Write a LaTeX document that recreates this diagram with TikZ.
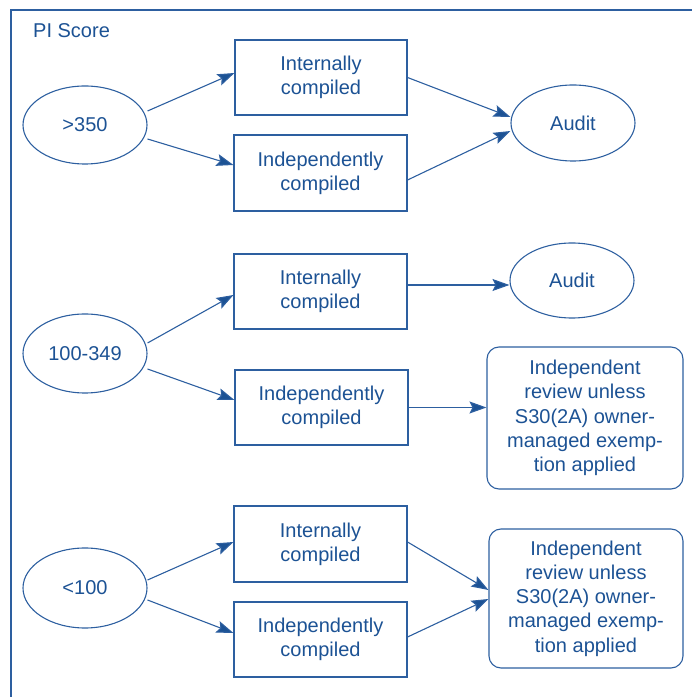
\documentclass[tikz,border=0pt]{standalone}
\usepackage{fontspec}
\setmainfont{Liberation Sans}
\usetikzlibrary{shapes.geometric,arrows.meta}
\definecolor{pblue}{RGB}{28,82,148}
\definecolor{lblue}{RGB}{45,95,160}
\tikzset{
  txt/.style={text=pblue,font=\fontsize{20}{24.3}\selectfont,align=center,inner sep=0pt},
  oval/.style={txt,ellipse,draw=lblue,line width=1.1pt,minimum width=124pt,minimum height=78pt},
  sbox/.style={txt,rectangle,draw=lblue,line width=1.1pt,minimum width=173pt,minimum height=75pt},
  rbox/.style={txt,rectangle,rounded corners=12pt,draw=lblue,line width=1.1pt,minimum width=195pt,minimum height=140pt},
  arr/.style={draw=lblue,line width=1.1pt,-{Stealth[length=17pt,width=12pt,inset=3pt,fill=pblue]}},
  frame/.style={draw=lblue,line width=1.1pt}
}
\begin{document}
\begin{tikzpicture}[x=1pt,y=1pt]
\useasboundingbox (0,0) rectangle (692,697);
\draw[frame] (11,0) -- (11,687) -- (692,687);
\node[txt,anchor=west] (pi) at (33,666) {PI Score};
% section 1
\node[oval] (g1) at (85,572) {>350};
\node[sbox,minimum width=172pt] (ia) at (321,619.5) {Internally\\compiled};
\node[sbox,minimum height=76pt] (ib) at (320.5,524) {Independently\\compiled};
\node[oval,minimum height=76pt] (au1) at (573,574) {Audit};
\draw[arr] ([yshift=14pt]g1.east) -- ([yshift=4.5pt]ia.west);
\draw[arr] ([yshift=-14pt]g1.east) -- ([yshift=8pt]ib.west);
\draw[arr] (ia.east) -- ([yshift=6pt]au1.west);
\draw[arr] ([yshift=-7pt]ib.east) -- ([yshift=-8pt]au1.west);
% section 2
\node[oval,minimum height=79pt] (g2) at (85,343.5) {100-349};
\node[sbox] (ic) at (320.5,405.5) {Internally\\compiled};
\node[sbox] (id) at (321.5,289.5) {Independently\\compiled};
\node[oval,minimum height=75pt] (au2) at (572,416.5) {Audit};
\node[rbox,minimum width=196pt,minimum height=142pt] (r2) at (585,279) {Independent\\review unless\\S30(2A) owner-\\managed exemp-\\tion applied};
\draw[arr] ([yshift=10.5pt]g2.east) -- ([yshift=-3.5pt]ic.west);
\draw[arr] ([yshift=-15.5pt]g2.east) -- ([yshift=7.5pt]id.west);
\draw[arr] ([yshift=6.5pt]ic.east) -- ([yshift=-4.5pt]au2.west);
\draw[arr] (id.east) -- (id.east -| r2.west);
% section 3
\node[oval,minimum height=80pt] (g3) at (85,109) {<100};
\node[sbox,minimum height=76pt] (ie) at (320.5,153) {Internally\\compiled};
\node[sbox] (if) at (320.5,57.5) {Independently\\compiled};
\node[rbox,minimum width=194pt,minimum height=139pt] (r3) at (586,98.5) {Independent\\review unless\\S30(2A) owner-\\managed exemp-\\tion applied};
\draw[arr] ([yshift=8pt]g3.east) -- ([yshift=2pt]ie.west);
\draw[arr] ([yshift=-12pt]g3.east) -- ([yshift=6.5pt]if.west);
\draw[arr] ([yshift=2pt]ie.east) -- ([yshift=8.5pt]r3.west);
\draw[arr] ([yshift=2.5pt]if.east) -- ([yshift=-0.5pt]r3.west);
\end{tikzpicture}
\end{document}
